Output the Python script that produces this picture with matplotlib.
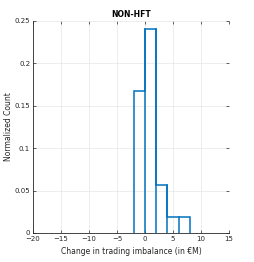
import numpy as np
import matplotlib.pyplot as plt

# istogramma normalizzato NON-HFT
bin_edges = [-2, 0, 2, 4, 6, 8]
bin_values = [0.167, 0.241, 0.056, 0.019, 0.019]
x_ticks = [-20, -15, -10, -5, 0, 5, 10, 15]
y_ticks = [0, 0.05, 0.1, 0.15, 0.2, 0.25]
y_labels = ['0', '0.05', '0.1', '0.15', '0.2', '0.25']

fig = plt.figure(figsize=(2.54, 2.62), dpi=100)
ax = fig.add_axes([0.130, 0.111, 0.772, 0.809])

ax.stairs(bin_values, bin_edges, fill=False, color='#0072BD', lw=1.1)
for e, v0, v1 in zip(bin_edges[1:-1], bin_values[:-1], bin_values[1:]):
    ax.plot([e, e], [0, max(v0, v1)], color='#0072BD', lw=1.1)

ax.set_xlim(-20, 15)
ax.set_ylim(0, 0.25)
ax.set_xticks(x_ticks)
ax.set_yticks(y_ticks)
ax.set_yticklabels(y_labels)
ax.grid(True, color='#e6e6e6', lw=0.5)
ax.set_axisbelow(True)
for s in ['top', 'right']:
    ax.spines[s].set_visible(False)
for s in ['left', 'bottom']:
    ax.spines[s].set_color('#262626')
    ax.spines[s].set_linewidth(0.6)
ax.tick_params(direction='in', length=2, width=0.5, labelsize=5,
               colors='#262626', top=True, right=True, pad=2)

ax.set_title('NON-HFT', fontsize=5.5, fontweight='bold', pad=3)
ax.set_xlabel('Change in trading imbalance (in €M)', fontsize=5.5,
              labelpad=4, color='#262626')
ax.set_ylabel('Normalized Count', fontsize=5.5, labelpad=1, color='#262626')

fig.savefig('out.png', dpi=100)
